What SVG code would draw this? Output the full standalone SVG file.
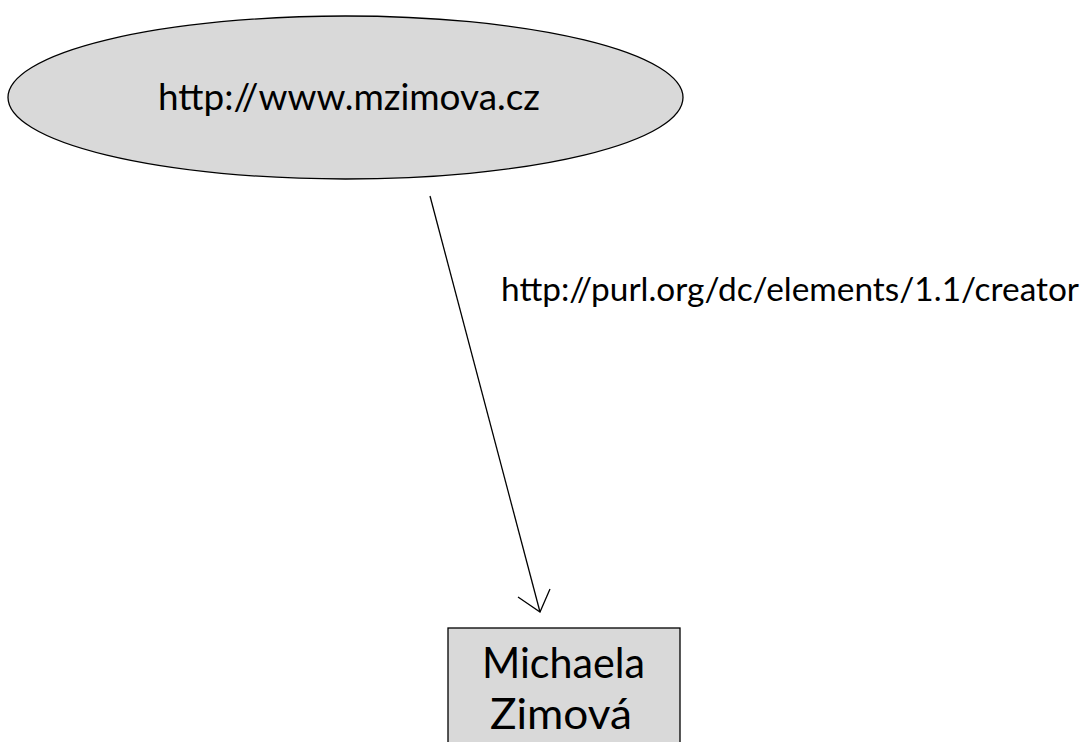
<svg xmlns="http://www.w3.org/2000/svg" width="1086" height="742" viewBox="0 0 1086 742">
<style>
.node{fill:#d9d9d9;stroke:#000;stroke-width:1.3}
.t{font-family:Lato,"Open Sans","Liberation Sans",sans-serif;fill:#000}
</style>
<rect width="1086" height="742" fill="#fff"/>
<g id="connectors">
<line x1="430" y1="196" x2="540" y2="612" stroke="#000" stroke-width="1.3"/>
<polyline points="518,597 540,612 550,589" fill="none" stroke="#000" stroke-width="1.3"/>
<text class="t" x="501" y="301" font-size="33" textLength="578" lengthAdjust="spacingAndGlyphs">http://purl.org/dc/elements/1.1/creator</text>
</g>
<g id="node-site">
<ellipse class="node" cx="345.5" cy="97.5" rx="337.5" ry="81.5"/>
<text class="t" x="158" y="110" font-size="37" textLength="382" lengthAdjust="spacingAndGlyphs">http://www.mzimova.cz</text>
</g>
<g id="node-creator">
<rect class="node" x="448" y="628" width="232" height="130"/>
<text class="t" x="482" y="678" font-size="42" textLength="163" lengthAdjust="spacingAndGlyphs">Michaela</text>
<text class="t" x="490" y="729" font-size="42" textLength="142" lengthAdjust="spacingAndGlyphs">Zimová</text>
</g>
</svg>
